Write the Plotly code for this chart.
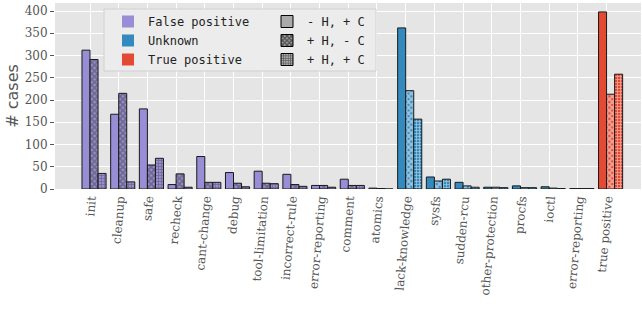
import plotly.graph_objects as go

categories = ['init', 'cleanup', 'safe', 'recheck', 'cant-change', 'debug',
              'tool-limitation', 'incorrect-rule', 'error-reporting', 'comment',
              'atomics', 'lack-knowledge', 'sysfs', 'sudden-rcu', 'other-protection',
              'procfs', 'ioctl', 'error-reporting', 'true positive']
classes = ['False positive'] * 11 + ['Unknown'] * 7 + ['True positive']

minus_h_plus_c = [312, 168, 180, 10, 73, 37, 40, 33, 8, 22, 2,
                  362, 27, 15, 4, 7, 5, 1, 398]
plus_h_minus_c = [291, 215, 54, 34, 15, 13, 13, 10, 8, 8, 1,
                  221, 18, 7, 4, 3, 2, 1, 213]
plus_h_plus_c = [35, 16, 69, 4, 15, 5, 12, 6, 4, 8, 0,
                 157, 22, 4, 3, 3, 1, 1, 258]

series_names = ['- H, + C', '+ H, - C', '+ H, + C']
class_names = ['False positive', 'Unknown', 'True positive']
class_colors = {'False positive': '#988ED5', 'Unknown': '#348ABD', 'True positive': '#E24A33'}
patterns = ['', 'x', '+']
pattern_sizes = [4, 4, 3]
pattern_solid = [0.3, 0.7, 0.45]

W = 0.28
xs = list(range(len(categories)))
colors = [class_colors[c] for c in classes]

fig = go.Figure()
for k, vals in enumerate([minus_h_plus_c, plus_h_minus_c, plus_h_plus_c]):
    fig.add_trace(go.Bar(
        x=xs, y=vals, width=W, offset=(k - 1) * W,
        marker=dict(color=colors, line=dict(color='#1a1a1a', width=1),
                    pattern=dict(shape=patterns[k], fillmode='overlay', fgcolor='black',
                                 size=pattern_sizes[k], solidity=pattern_solid[k])),
        showlegend=False, hoverinfo='skip'))

for cn in class_names:
    fig.add_trace(go.Bar(x=[None], y=[None], name=cn, legend='legend',
                         marker=dict(color=class_colors[cn], line=dict(width=0))))
for k, sn in enumerate(series_names):
    fig.add_trace(go.Bar(x=[None], y=[None], name=sn, legend='legend2',
                         marker=dict(color='#aaaaaa', line=dict(color='black', width=1),
                                     pattern=dict(shape=patterns[k], fillmode='overlay', fgcolor='black',
                                                  size=pattern_sizes[k], solidity=pattern_solid[k]))))

L, R, T, B = 55, 1, 3, 124
PW, PH = 642 - L - R, 313 - T - B
def px(x):
    return (x - L) / PW
def py(y):
    return (313 - B - y) / PH

legend_font = dict(family='DejaVu Sans Mono', size=12, color='#222')
fig.update_layout(
    width=642, height=313,
    margin=dict(l=L, r=R, t=T, b=B),
    paper_bgcolor='white', plot_bgcolor='#E5E5E5',
    barmode='overlay',
    font=dict(family='DejaVu Serif', size=12, color='#555'),
    xaxis=dict(tickmode='array', tickvals=xs, ticktext=categories, tickangle=-85,
               range=[-1.22, 19.2], showgrid=True, gridcolor='white', gridwidth=1.2,
               zeroline=False, ticks='', automargin=False,
               tickfont=dict(family='DejaVu Serif', size=12, color='#555')),
    yaxis=dict(range=[0, 418], dtick=50, showgrid=True, gridcolor='white', gridwidth=1.2,
               zeroline=False, ticks='outside', ticklen=4, tickcolor='#555', automargin=False,
               tickfont=dict(family='DejaVu Serif', size=12, color='#555'),
               title=dict(text='# cases', font=dict(family='DejaVu Sans', size=16, color='#555'),
                          standoff=2)),
    legend=dict(x=px(108), y=py(7), xanchor='left', yanchor='top', bgcolor='rgba(0,0,0,0)',
                font=legend_font, tracegroupgap=0),
    legend2=dict(x=px(267), y=py(7), xanchor='left', yanchor='top', bgcolor='rgba(0,0,0,0)',
                 font=legend_font, tracegroupgap=0),
    shapes=[dict(type='rect', xref='paper', yref='paper', x0=px(104), x1=px(376),
                 y0=py(71), y1=py(9), fillcolor='#ECECEC', line=dict(color='#D0D0D0', width=1),
                 layer='above')],
)

fig.write_html('out.html', config={'displayModeBar': False},
               post_script="document.body.style.margin='0';")
